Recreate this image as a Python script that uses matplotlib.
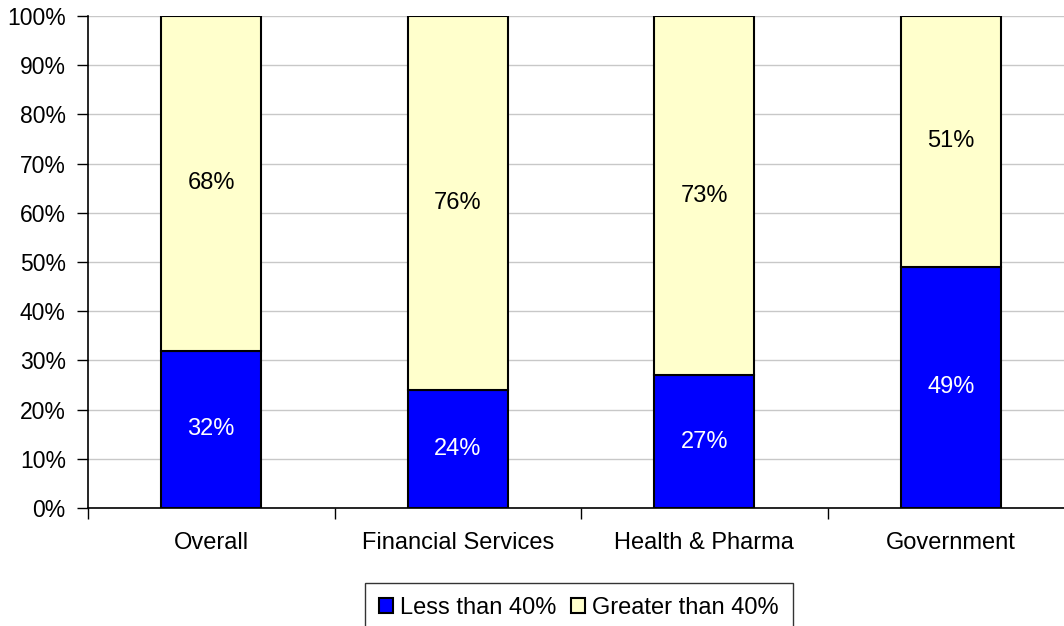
import matplotlib.pyplot as plt
from matplotlib.ticker import PercentFormatter

plt.rcParams['font.family'] = ['Liberation Sans', 'DejaVu Sans']

categories = ['Overall', 'Financial Services', 'Health & Pharma', 'Government']
less_than_40 = [32, 24, 27, 49]
greater_than_40 = [68, 76, 73, 51]
series_names = ['Less than 40%', 'Greater than 40%']

fs = 17
fig = plt.figure(figsize=(10.64, 6.26), dpi=100)
ax = fig.add_axes([88 / 1064, 118 / 626, 986 / 1064, 492 / 626])

x = range(len(categories))
b1 = ax.bar(x, less_than_40, width=0.405, color='#0000FF', edgecolor='black',
            linewidth=1.5, label=series_names[0], zorder=3)
b2 = ax.bar(x, greater_than_40, width=0.405, bottom=less_than_40, color='#FFFFCC',
            edgecolor='black', linewidth=1.5, label=series_names[1], zorder=3)

for i in x:
    ax.text(i, less_than_40[i] / 2, f'{less_than_40[i]}%', ha='center', va='center',
            color='white', fontsize=fs, zorder=4)
    ax.text(i, less_than_40[i] + greater_than_40[i] / 2, f'{greater_than_40[i]}%',
            ha='center', va='center', color='black', fontsize=fs, zorder=4)

ax.set_xlim(-0.5, len(categories) - 0.5)
ax.set_ylim(0, 100)
ax.set_yticks(range(0, 101, 10))
ax.yaxis.set_major_formatter(PercentFormatter(decimals=0))
ax.grid(axis='y', color='#c8c8c8', linewidth=1, zorder=0)

# category labels sit between boundary tick marks
ax.set_xticks([i - 0.5 for i in range(len(categories) + 1)])
ax.set_xticklabels([])
ax.set_xticks(list(x), minor=True)
ax.set_xticklabels(categories, minor=True)
ax.tick_params(axis='x', which='minor', length=0, pad=17, labelsize=fs)
ax.tick_params(axis='x', which='major', length=8, width=1, direction='out')
ax.tick_params(axis='y', length=8, width=1, labelsize=16.5, pad=8)

for side in ['top', 'right']:
    ax.spines[side].set_visible(False)
ax.spines['left'].set_linewidth(1.2)
ax.spines['bottom'].set_linewidth(1.2)

leg = fig.legend(handles=[b1, b2], labels=series_names, loc='center',
                 bbox_to_anchor=(579 / 1064, 18 / 626), ncol=2, fontsize=fs,
                 frameon=True, fancybox=False, edgecolor='black',
                 handlelength=0.6, handleheight=0.6, handletextpad=0.3,
                 columnspacing=0.6, borderpad=0.6)
leg.get_frame().set_linewidth(1.0)

fig.savefig('out.png', dpi=100)
